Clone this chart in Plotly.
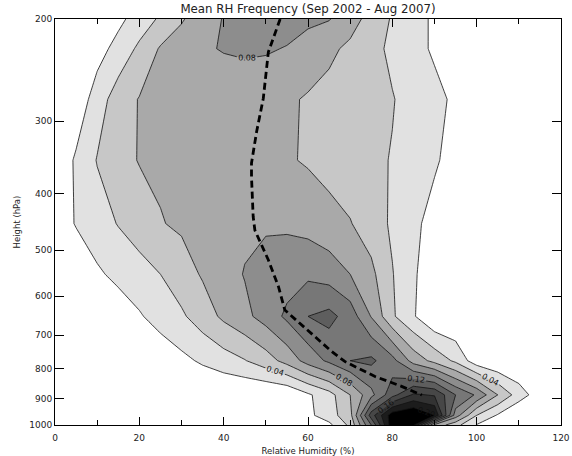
import plotly.graph_objects as go

# ---------------- data ----------------
rh_bins = [0, 5, 10, 15, 20, 25, 30, 35, 40, 45, 50, 55, 60,
           65, 70, 75, 80, 85, 90, 95, 100, 105, 110, 115, 120]
pressure_levels = [200, 225, 275, 350, 450, 550, 650, 775, 887.5, 962.5, 1000]

freq_200 = [0, 0, 0.003, 0.015, 0.029, 0.043, 0.058, 0.071, 0.081, 0.084, 0.088, 0.088, 0.084,
            0.081, 0.068, 0.053, 0.038, 0.027, 0.017, 0.006, 0, 0, 0, 0, 0]
freq_225 = [0, 0, 0.012, 0.027, 0.044, 0.062, 0.070, 0.078, 0.081, 0.082, 0.082, 0.079, 0.072,
            0.064, 0.056, 0.046, 0.036, 0.027, 0.017, 0.007, 0, 0, 0, 0, 0]
freq_275 = [0, 0.006, 0.030, 0.050, 0.061, 0.063, 0.065, 0.068, 0.070, 0.072, 0.067, 0.063, 0.058,
            0.054, 0.049, 0.045, 0.041, 0.033, 0.026, 0.016, 0.004, 0, 0, 0, 0]
freq_350 = [0.003, 0.023, 0.041, 0.053, 0.061, 0.063, 0.065, 0.068, 0.070, 0.067, 0.064, 0.062, 0.058,
            0.053, 0.049, 0.044, 0.039, 0.031, 0.023, 0.011, 0, 0, 0, 0, 0]
freq_450 = [0.011, 0.021, 0.031, 0.041, 0.050, 0.059, 0.063, 0.067, 0.071, 0.076, 0.078, 0.077, 0.073,
            0.067, 0.061, 0.050, 0.037, 0.025, 0.012, 0.002, 0, 0, 0, 0, 0]
freq_550 = [0.002, 0.009, 0.017, 0.025, 0.032, 0.040, 0.051, 0.062, 0.072, 0.081, 0.086, 0.091, 0.096,
            0.091, 0.080, 0.065, 0.041, 0.023, 0.006, 0, 0, 0, 0, 0, 0]
freq_650 = [0, 0, 0, 0.009, 0.018, 0.028, 0.037, 0.050, 0.064, 0.075, 0.088, 0.104, 0.120,
            0.126, 0.111, 0.079, 0.043, 0.022, 0.002, 0, 0, 0, 0, 0, 0]
freq_775 = [0, 0, 0, 0, 0, 0.007, 0.015, 0.023, 0.031, 0.039, 0.051, 0.067, 0.088,
            0.104, 0.120, 0.124, 0.107, 0.072, 0.054, 0.036, 0.008, 0, 0, 0, 0]
freq_887 = [0, 0, 0, 0, 0, 0, 0, 0, 0, 0, 0, 0.002, 0.017,
            0.032, 0.060, 0.094, 0.133, 0.163, 0.158, 0.120, 0.097, 0.060, 0.030, 0.009, 0]
freq_962 = [0, 0, 0, 0, 0, 0, 0, 0, 0, 0, 0, 0, 0.015,
            0.031, 0.053, 0.150, 0.212, 0.222, 0.200, 0.090, 0.040, 0.018, 0, 0, 0]
freq_1000 = [0, 0, 0, 0, 0, 0, 0, 0, 0, 0, 0, 0, 0,
             0.015, 0.045, 0.120, 0.215, 0.205, 0.075, 0.047, 0.019, 0, 0, 0, 0]

# mean RH profile (dashed line)
mean_rh = [53.4, 50.6, 49.4, 47.8, 46.6, 46.6, 47.0, 47.4, 50.6, 53.0,
           54.5, 58.9, 65.6, 68.8, 75.9, 82.2, 87.0]
mean_p = [200, 228, 274, 313, 354, 374, 438, 462, 520, 578,
          634, 677, 747, 778, 825, 858, 888]

x_ticks = [0, 20, 40, 60, 80, 100, 120]
y_ticks = [200, 300, 400, 500, 600, 700, 800, 900, 1000]
band_colors = ["#ffffff", "#e1e1e1", "#c7c7c7", "#a9a9a9", "#8d8d8d", "#777777",
               "#5e5e5e", "#474747", "#323232", "#1c1c1c", "#000000"]

z = [freq_200, freq_225, freq_275, freq_350, freq_450, freq_550,
     freq_650, freq_775, freq_887, freq_962, freq_1000]

n = len(band_colors) - 1
colorscale = [[i / n, c] for i, c in enumerate(band_colors)]

fig = go.Figure()
fig.add_trace(go.Contour(
    x=rh_bins, y=pressure_levels, z=z,
    contours=dict(start=0.02, end=0.201, size=0.02, coloring="fill", showlines=False),
    colorscale=colorscale, showscale=False, line=dict(width=0, smoothing=0),
    hoverinfo="skip",
))
fig.add_trace(go.Contour(
    x=rh_bins, y=pressure_levels, z=z,
    contours=dict(start=0.02, end=0.181, size=0.04, coloring="none"),
    line=dict(color="#111111", width=0.8, smoothing=0), showscale=False, hoverinfo="skip",
))
fig.add_trace(go.Contour(
    x=rh_bins, y=pressure_levels, z=z,
    contours=dict(start=0.04, end=0.201, size=0.04, coloring="none",
                  showlabels=True, labelformat=".2f",
                  labelfont=dict(size=8, color="#111111", family="DejaVu Sans")),
    line=dict(color="#111111", width=0.8, smoothing=0), showscale=False, hoverinfo="skip",
))
fig.add_trace(go.Scatter(
    x=mean_rh, y=mean_p, mode="lines",
    line=dict(color="black", width=2.8, dash="7px,4px"),
    hoverinfo="skip", showlegend=False,
))

fig.update_layout(
    width=572, height=456,
    margin=dict(l=55, r=11, t=19, b=31),
    paper_bgcolor="white", plot_bgcolor="white",
    showlegend=False,
    font=dict(family="DejaVu Sans", color="#222222"),
    title=dict(text="Mean RH Frequency (Sep 2002 - Aug 2007)",
               x=0.5, xref="paper", xanchor="center",
               y=1 - 9 / 456, yref="container", yanchor="middle",
               font=dict(size=11.8, color="#222222")),
)
fig.update_xaxes(
    range=[0, 120], tickvals=x_ticks, ticktext=[str(v) for v in x_ticks],
    ticks="inside", ticklen=8, tickcolor="black", tickwidth=1,
    minor=dict(ticks="inside", ticklen=5, dtick=10, tickcolor="black"),
    showline=True, linecolor="black", linewidth=1, mirror="ticks",
    showgrid=False, zeroline=False, tickfont=dict(size=9),
    ticklabeloverflow="allow", ticklabelstandoff=4,
    title=dict(text="Relative Humidity (%)", font=dict(size=8.5), standoff=8),
    automargin=False,
)
fig.update_yaxes(
    type="log", range=[3, 2.30103],
    tickvals=y_ticks, ticktext=[str(v) for v in y_ticks],
    ticks="inside", ticklen=9, tickcolor="black", tickwidth=1,
    showline=True, linecolor="black", linewidth=1, mirror="ticks",
    showgrid=False, zeroline=False, tickfont=dict(size=9),
    ticklabeloverflow="allow",
    title=dict(text="Height (hPa)", font=dict(size=8.5), standoff=7),
    automargin=False,
)

fig.write_html("out.html", config={"displayModeBar": False},
               post_script="document.body.style.margin='0';document.body.style.overflow='hidden';")
